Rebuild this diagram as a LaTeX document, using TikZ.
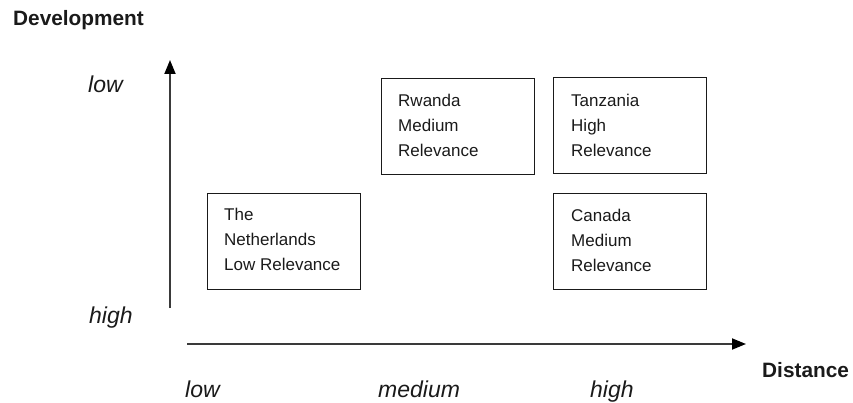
\documentclass[tikz,border=0pt]{standalone}
\usepackage{fontspec}
\setmainfont{Liberation Sans}
\usetikzlibrary{arrows.meta}
\definecolor{ink}{HTML}{1A1A1A}
\definecolor{axisc}{HTML}{3A3A3A}
\tikzset{
  box/.style={draw=ink, line width=1.4pt, anchor=north west, inner sep=0pt, minimum width=153pt, minimum height=96pt},
  boxtext/.style={text=ink, anchor=base west, inner sep=0pt, font=\fontsize{17}{25}\selectfont},
  axislbl/.style={text=ink, anchor=base west, inner sep=0pt, font=\fontsize{23}{27}\selectfont\itshape},
  title/.style={text=ink, anchor=base west, inner sep=0pt, font=\fontsize{20.8}{24}\selectfont\bfseries},
  axis/.style={draw=axisc, line width=1.8pt, -{Triangle[length=14pt,width=11pt,color=black]}}
}
\begin{document}
\begin{tikzpicture}[x=1pt,y=-1pt]
\useasboundingbox (0,0) rectangle (853,403);
% axes
\coordinate (ybot) at (170,308);
\coordinate (ytop) at (170,60);
\coordinate (xleft) at (187,344);
\coordinate (xright) at (746,344);
\draw[axis] (ybot) -- (ytop);
\draw[axis] (xleft) -- (xright);
% titles
\node[title] (dev) at (13,26) {Development};
\node[title] (dist) at (762,377) {Distance};
% axis labels
\node[axislbl] (ylow) at (88,93) {low};
\node[axislbl] (yhigh) at (89,323) {high};
\node[axislbl] (xlow) at (185,397) {low};
\node[axislbl] (xmed) at (378,397) {medium};
\node[axislbl] (xhigh) at (590,397) {high};
% boxes
\node[box] (nl) at (207,193) {};
\node[box] (rw) at (381,78) {};
\node[box] (tz) at (553,77) {};
\node[box] (ca) at (553,193) {};
% box texts
\node[boxtext] (nlt) at (224,221) {\parbox[t]{130pt}{The\\Netherlands\\Low Relevance}};
\node[boxtext] (rwt) at (398,107) {\parbox[t]{130pt}{Rwanda\\Medium\\Relevance}};
\node[boxtext] (tzt) at (571,107) {\parbox[t]{130pt}{Tanzania\\High\\Relevance}};
\node[boxtext] (cat) at (571,222) {\parbox[t]{130pt}{Canada\\Medium\\Relevance}};
\end{tikzpicture}
\end{document}
